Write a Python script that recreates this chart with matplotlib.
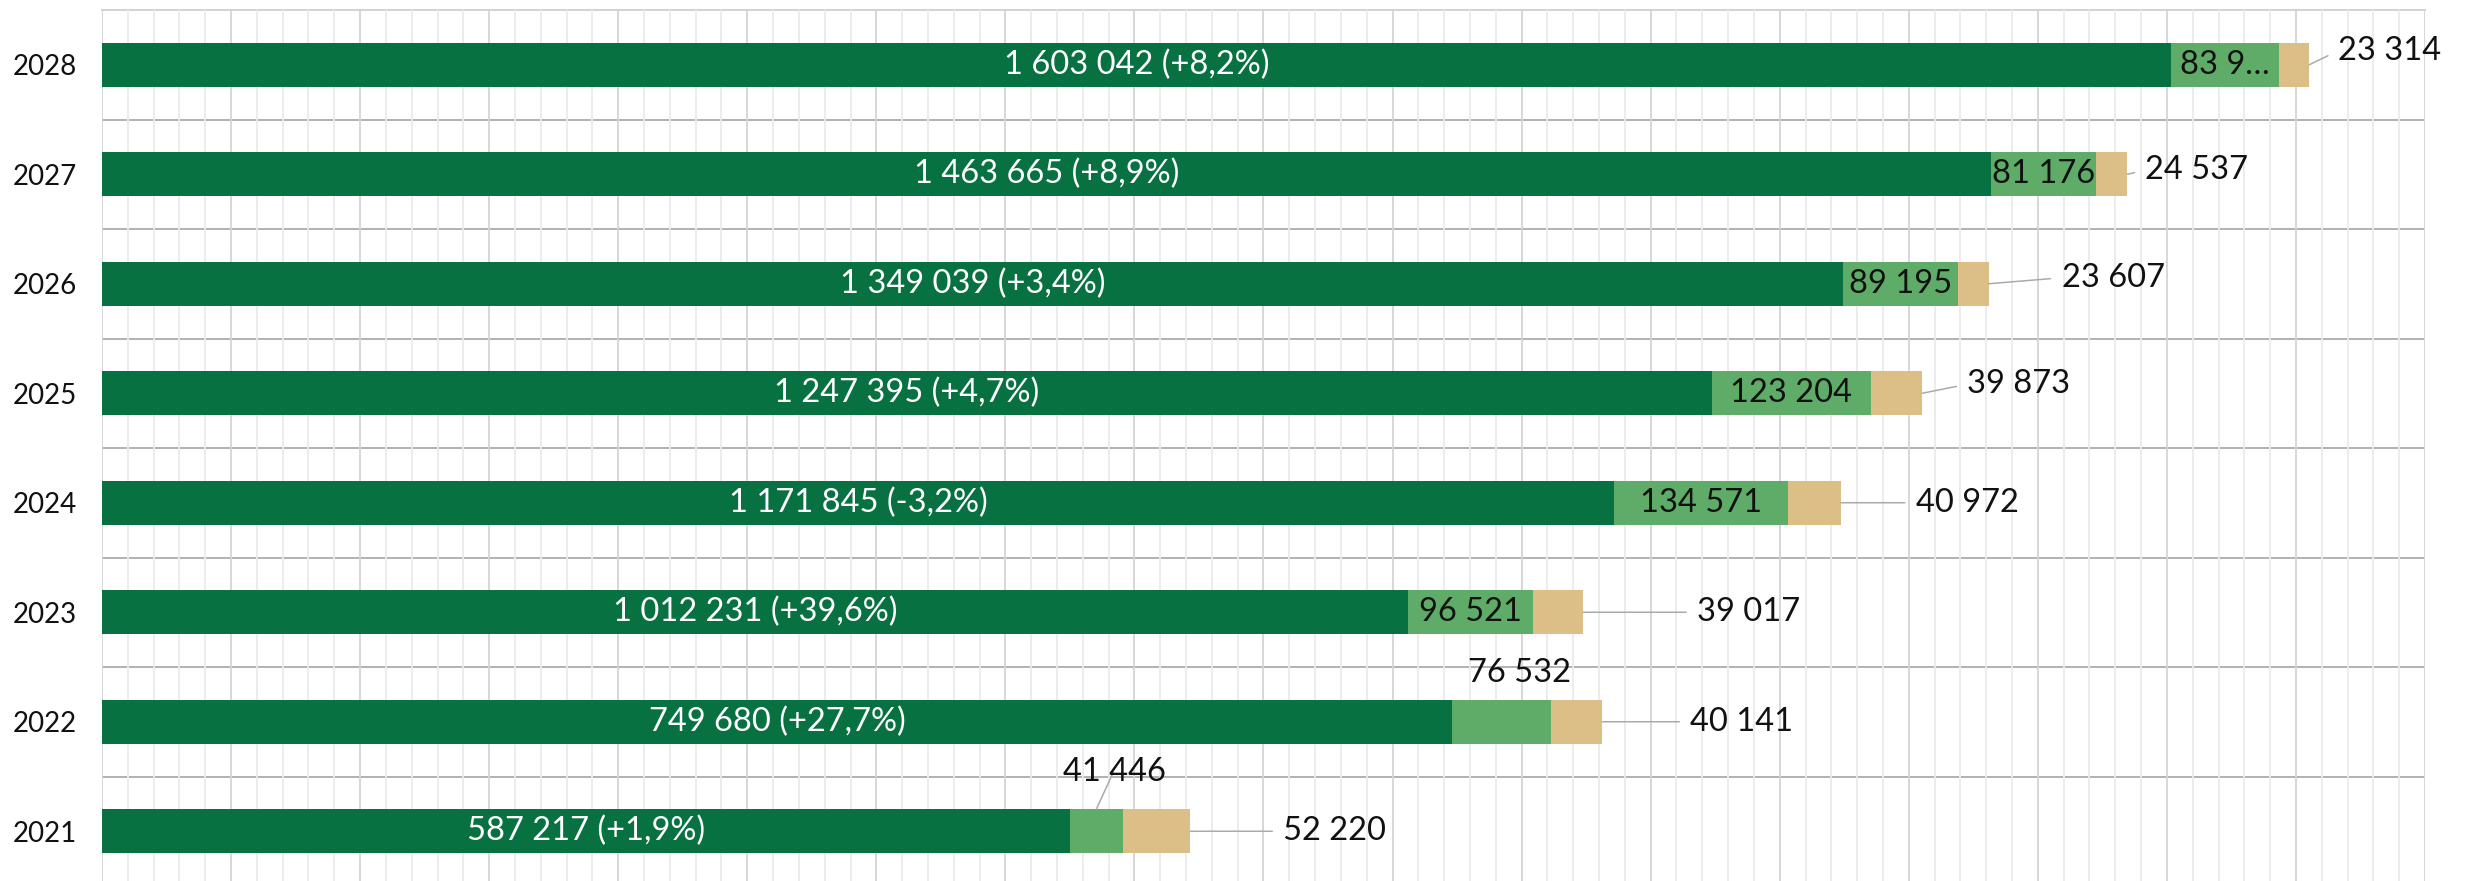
import matplotlib.pyplot as plt
import numpy as np
from matplotlib.ticker import MultipleLocator

plt.rcParams['font.family'] = ['Lato', 'DejaVu Sans']

years = ['2021', '2022', '2023', '2024', '2025', '2026', '2027', '2028']

# bar lengths
dark = [749700, 1046000, 1012231, 1171845, 1247395, 1349039, 1463665, 1603042]
light = [41446, 76532, 96521, 134571, 123204, 89195, 81176, 83950]
tan = [52220, 40141, 39017, 40972, 39873, 23607, 24537, 23314]

dark_labels = ['587 217 (+1,9%)', '749 680 (+27,7%)', '1 012 231 (+39,6%)',
               '1 171 845 (-3,2%)', '1 247 395 (+4,7%)', '1 349 039 (+3,4%)',
               '1 463 665 (+8,9%)', '1 603 042 (+8,2%)']
light_labels = ['41 446', '76 532', '96 521', '134 571', '123 204', '89 195',
                '81 176', '83 9…']
tan_labels = ['52 220', '40 141', '39 017', '40 972', '39 873', '23 607',
              '24 537', '23 314']

# label placement (pixels)
tan_dx = [93, 88, 114, 75, 45, 73, 18, 29]
tan_dy = [0, 0, 0, 0, 9, 6, 4, 14]
light_outside = {0: (18, 59, True), 1: (18, 49, False)}

c_dark = '#077142'
c_light = '#5eac67'
c_tan = '#dcbe87'

W, H = 2488, 881
fig = plt.figure(figsize=(W / 100, H / 100), dpi=100)
ax = fig.add_axes([102 / W, (881 - 886) / H, (2425 - 102) / W, (886 - 10) / H])

y = np.arange(len(years))
dark = np.array(dark)
light = np.array(light)
tan = np.array(tan)
bh = 0.40

ax.barh(y, dark, height=bh, color=c_dark, zorder=3)
ax.barh(y, light, left=dark, height=bh, color=c_light, zorder=3)
ax.barh(y, tan, left=dark + light, height=bh, color=c_tan, zorder=3)

ax.set_xlim(0, 1800000)
ax.set_ylim(-0.5, 7.5)
ax.xaxis.set_major_locator(MultipleLocator(100000))
ax.xaxis.set_minor_locator(MultipleLocator(20000))
ax.grid(which='major', axis='x', color='#d4d4d4', lw=1.3, zorder=0)
ax.grid(which='minor', axis='x', color='#ebebeb', lw=1.3, zorder=0)
for s in ax.spines.values():
    s.set_visible(False)
for yy in np.arange(-0.5, 7.0, 1.0):
    ax.axhline(yy, color='#9c9c9c', lw=1.1, zorder=1)
ax.axhline(7.5, color='#cfcfcf', lw=1.3, zorder=1, clip_on=False)

ax.set_yticks(y)
ax.set_yticklabels(years, fontsize=20, color='#111111')
ax.tick_params(axis='y', length=0, pad=18)
ax.tick_params(axis='x', which='both', length=0, labelbottom=False)

for i in range(len(years)):
    ax.text(dark[i] / 2, y[i], dark_labels[i], color='white', fontsize=23.5,
            ha='center', va='center', zorder=5)

    lc = dark[i] + light[i] / 2
    if i in light_outside:
        dx, dy, leader = light_outside[i]
        ax.annotate(light_labels[i], xy=(lc, y[i]), xytext=(dx, dy),
                    textcoords='offset pixels', ha='center', va='center',
                    fontsize=23.5, color='#111111', zorder=5)
        if leader:
            ax.annotate('', xy=(lc, y[i] + bh / 2), xytext=(17, 37),
                        textcoords='offset pixels',
                        arrowprops=dict(arrowstyle='-', color='#aaaaaa', lw=1.1,
                                        shrinkA=0, shrinkB=0), zorder=4)
    else:
        ax.text(lc, y[i], light_labels[i], color='#111111', fontsize=23.5,
                ha='center', va='center', zorder=5)

    end = dark[i] + light[i] + tan[i]
    ax.annotate(tan_labels[i], xy=(end, y[i]), xytext=(tan_dx[i], tan_dy[i]),
                textcoords='offset pixels', ha='left', va='center',
                fontsize=23.5, color='#111111', zorder=5,
                arrowprops=dict(arrowstyle='-', color='#aaaaaa', lw=1.1,
                                shrinkA=6, shrinkB=0, relpos=(0, 0.5)))

fig.savefig('out.png', dpi=100)
